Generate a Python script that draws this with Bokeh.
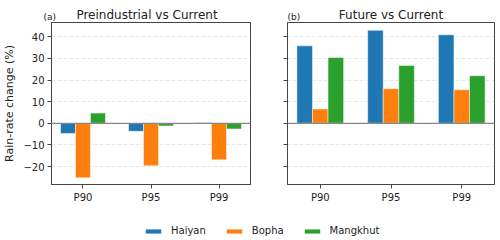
from bokeh.plotting import figure
from bokeh.layouts import column, row
from bokeh.models import (Range1d, FixedTicker, Span, Legend, LegendItem,
                          ColumnDataSource)
from bokeh.core.properties import value
from bokeh.embed import file_html
from bokeh.resources import INLINE

# Percentile categories and storms
categories = ["P90", "P95", "P99"]
storms = ["Haiyan", "Bopha", "Mangkhut"]
colors = ["#1f77b4", "#ff7f0e", "#2ca02c"]

# Rain-rate change (%) per storm, Preindustrial vs Current
pre_haiyan = [-4.7, -3.7, 0.3]
pre_bopha = [-25.2, -19.6, -16.9]
pre_mangkhut = [4.7, -1.2, -2.6]

# Rain-rate change (%) per storm, Future vs Current
fut_haiyan = [35.8, 43.0, 40.9]
fut_bopha = [6.6, 16.0, 15.5]
fut_mangkhut = [30.4, 26.7, 22.0]

y_ticks = [-20, -10, 0, 10, 20, 30, 40]
panel_titles = ["Preindustrial vs Current", "Future vs Current"]
panel_tags = ["(a)", "(b)"]

FONT = "DejaVu Sans"
FRAME = "#444444"
TEXT = "#222222"
BAR_W = 0.22
X_RANGE = (-0.463, 2.463)
Y_RANGE = (-28.3, 46.6)


def panel(series, width, border_left, border_right, show_labels):
    p = figure(width=width, height=184, output_backend="svg", toolbar_location=None,
               x_range=Range1d(*X_RANGE), y_range=Range1d(*Y_RANGE),
               min_border_left=border_left, min_border_right=border_right,
               min_border_top=1, min_border_bottom=20)
    p.outline_line_color = FRAME
    p.outline_line_width = 1

    idx = list(range(len(categories)))
    offsets = [-BAR_W, 0.0, BAR_W]
    for vals, col, off in zip(series, colors, offsets):
        src = ColumnDataSource(dict(x=[i + off for i in idx], top=vals))
        p.vbar(x="x", top="top", bottom=0, width=BAR_W, source=src,
               fill_color=col, line_color="white", line_alpha=0.6, line_width=0.8)

    p.add_layout(Span(location=0, dimension="width", line_color="#888888",
                      line_width=1.3))

    p.xaxis.ticker = FixedTicker(ticks=idx)
    p.xaxis.major_label_overrides = {i: c for i, c in zip(idx, categories)}
    p.yaxis.ticker = FixedTicker(ticks=y_ticks)
    for ax in (p.xaxis, p.yaxis):
        ax.axis_line_color = FRAME
        ax.major_tick_line_color = FRAME
        ax.major_tick_out = 4
        ax.major_tick_in = 0
        ax.minor_tick_line_color = None
        ax.major_label_text_font = FONT
        ax.major_label_text_font_size = "10px"
        ax.major_label_text_color = TEXT
        ax.major_label_standoff = 3
    p.xgrid.grid_line_color = None
    p.ygrid.grid_line_color = "#dddddd"
    p.ygrid.grid_line_alpha = 0.7
    p.ygrid.grid_line_dash = "4 2"
    p.ygrid.ticker = FixedTicker(ticks=y_ticks)

    if show_labels:
        p.yaxis.axis_label = "Rain-rate change (%)"
        p.yaxis.axis_label_text_font = FONT
        p.yaxis.axis_label_text_font_size = "11px"
        p.yaxis.axis_label_text_font_style = "normal"
        p.yaxis.axis_label_text_color = TEXT
        p.yaxis.axis_label_standoff = 4
    else:
        p.yaxis.major_label_overrides = {t: "" for t in y_ticks}
        p.yaxis.major_label_standoff = 0
    return p


p1 = panel([pre_haiyan, pre_bopha, pre_mangkhut], 268, 43, 18, True)
p2 = panel([fut_haiyan, fut_bopha, fut_mangkhut], 232, 19, 6, False)

# Header strip carrying the panel titles and (a)/(b) tags, in pixel units
head = figure(width=500, height=21, output_backend="svg", toolbar_location=None,
              x_range=Range1d(0, 500), y_range=Range1d(0, 21),
              min_border_left=0, min_border_right=0, min_border_top=0, min_border_bottom=0)
head.axis.visible = False
head.grid.visible = False
head.outline_line_color = None
head.text(x=[146.5, 390.5], y=[7, 7], text=panel_titles, text_align="center",
          text_baseline="alphabetic", text_font=value(FONT), text_font_size="12px",
          text_color=TEXT)
head.text(x=[43, 287], y=[5, 5], text=panel_tags, text_align="left",
          text_baseline="alphabetic", text_font=value(FONT), text_font_size="9px",
          text_color=TEXT)

# Shared legend strip under both panels
leg = figure(width=500, height=35, output_backend="svg", toolbar_location=None,
             x_range=Range1d(0, 1), y_range=Range1d(0, 1),
             min_border_left=0, min_border_right=0, min_border_top=0, min_border_bottom=0)
leg.axis.visible = False
leg.grid.visible = False
leg.outline_line_color = None
items = []
for name, col in zip(storms, colors):
    # legend proxy with no drawable value
    r = leg.vbar(x=[0.5], top=[float("nan")], bottom=[float("nan")], width=0.1,
                 fill_color=col, line_color="white", line_alpha=0.6)
    items.append(LegendItem(label=name, renderers=[r]))
legend = Legend(items=items, orientation="horizontal", location=(143, 4),
                glyph_width=20, glyph_height=6, label_height=10,
                label_standoff=8, spacing=18, padding=0, margin=0,
                border_line_color=None, background_fill_alpha=0,
                label_text_font=FONT, label_text_font_size="10px",
                label_text_color=TEXT)
leg.add_layout(legend, "center")

layout = column(head, row(p1, p2), leg)
open("out.html", "w").write(file_html(layout, INLINE))
